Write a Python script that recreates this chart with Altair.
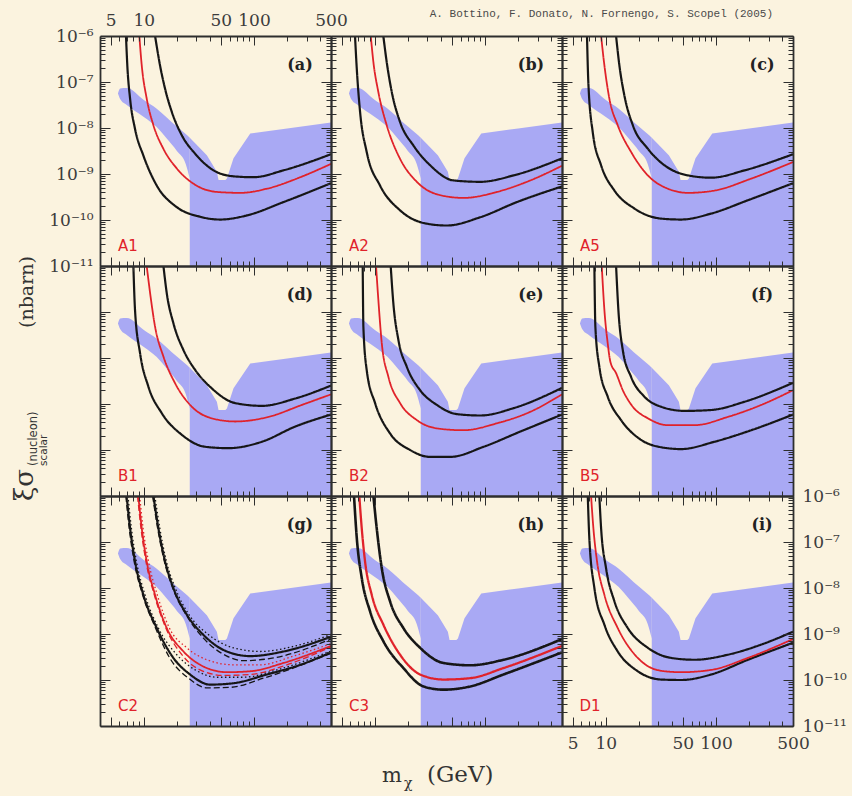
import altair as alt
import pandas as pd

# ---------------- style ----------------
BG = "#fbf3df"
BLUE = "#a9a9f4"
RED = "#e0222a"
BLACK = "#161616"
FRAME = "#2e2e2e"
SERIF = "DejaVu Serif"
W, H = 231, 230

# ---------------- axes ----------------
X_DOMAIN = [4, 500]
Y_DOMAIN = [1e-11, 1e-6]
X_MAJOR = [5, 10, 50, 100, 500]
X_MINOR = [6, 7, 8, 9, 20, 30, 40, 60, 70, 80, 90, 200, 300, 400]
Y_MAJOR = [1e-11, 1e-10, 1e-9, 1e-8, 1e-7, 1e-6]
Y_MINOR = [k * 10.0 ** e for e in range(-11, -6) for k in range(2, 10)]

# ---------------- allowed region (log10 m, log10 sigma) ----------------
BAND_LOGM = [0.765, 0.785, 0.845, 1.000, 1.117, 1.208, 1.300, 1.380, 1.417]
BAND_HI = [-7.25, -7.14, -7.13, -7.39, -7.58, -7.77, -7.97, -8.13, -8.21]
BAND_LO = [-7.25, -7.37, -7.50, -7.76, -7.98, -8.23, -8.50, -8.78, -9.10]
REGION_LOGM = [1.417, 1.477, 1.572, 1.663, 1.678, 1.740, 1.754, 1.814, 1.903, 1.966, 2.301, 2.699]
REGION_HI = [-8.21, -8.36, -8.59, -8.95, -9.13, -9.13, -9.10, -8.66, -8.34, -8.12, -8.01, -7.88]

# ---------------- curves (log10 m, log10 sigma) ----------------
A_UP = [(1.102, -6.0), (1.147, -6.64), (1.193, -7.15), (1.254, -7.65), (1.345, -8.16), (1.466, -8.56),
        (1.632, -8.92), (1.814, -9.05), (1.996, -9.07), (2.268, -8.92), (2.699, -8.57)]
A_MID = [(0.959, -6.0), (0.981, -6.64), (1.026, -7.36), (1.087, -7.94), (1.177, -8.45), (1.299, -8.88),
         (1.450, -9.21), (1.663, -9.39), (1.875, -9.41), (2.117, -9.32), (2.420, -9.07), (2.699, -8.78)]
A_LO = [(0.838, -6.0), (0.850, -6.64), (0.875, -7.36), (0.920, -8.02), (0.996, -8.60), (1.117, -9.25),
        (1.299, -9.72), (1.511, -9.93), (1.693, -9.99), (1.936, -9.90), (2.268, -9.61), (2.699, -9.20)]

B_UP = [(1.077, -6.0), (1.108, -6.57), (1.154, -7.22), (1.229, -7.87), (1.350, -8.38), (1.502, -8.81),
        (1.714, -9.14), (1.957, -9.17), (2.260, -9.03), (2.699, -8.66)]
B_MID = [(0.963, -6.0), (0.987, -6.57), (1.032, -7.22), (1.108, -7.94), (1.229, -8.67), (1.381, -9.17),
         (1.593, -9.46), (1.805, -9.52), (2.108, -9.39), (2.411, -9.14), (2.699, -8.82)]
B_LO = [(0.820, -6.0), (0.836, -6.71), (0.866, -7.65), (0.926, -8.52), (1.047, -9.25), (1.229, -9.79),
        (1.472, -10.08), (1.654, -10.12), (1.957, -9.94), (2.290, -9.61), (2.699, -9.27)]

C_UP = [(1.093, -6.0), (1.123, -6.64), (1.168, -7.29), (1.245, -7.94), (1.381, -8.45), (1.532, -8.81),
        (1.745, -9.03), (1.957, -9.08), (2.260, -8.92), (2.699, -8.57)]
C_MID = [(0.957, -6.0), (0.987, -6.64), (1.032, -7.36), (1.108, -7.94), (1.229, -8.52), (1.381, -9.03),
         (1.563, -9.32), (1.745, -9.41), (1.987, -9.36), (2.320, -9.10), (2.699, -8.74)]
C_LO = [(0.829, -6.0), (0.841, -7.0), (0.881, -8.09), (0.957, -8.81), (1.078, -9.36), (1.259, -9.75),
        (1.502, -9.97), (1.684, -9.99), (1.957, -9.86), (2.290, -9.57), (2.699, -9.20)]

D_UP = [(1.178, -6.0), (1.208, -6.59), (1.269, -7.25), (1.360, -7.83), (1.466, -8.26), (1.617, -8.66),
        (1.829, -8.98), (2.072, -9.04), (2.375, -8.88), (2.699, -8.60)]
D_MID = [(1.026, -6.0), (1.057, -6.59), (1.102, -7.32), (1.178, -7.97), (1.284, -8.55), (1.436, -9.06),
         (1.617, -9.31), (1.829, -9.38), (2.132, -9.28), (2.435, -9.02), (2.699, -8.79)]
D_LO = [(0.905, -6.0), (0.920, -6.96), (0.966, -7.90), (1.041, -8.62), (1.163, -9.20), (1.345, -9.67),
        (1.557, -9.93), (1.768, -9.96), (2.072, -9.82), (2.375, -9.49), (2.699, -9.23)]

E_UP = [(1.144, -6.0), (1.168, -6.81), (1.214, -7.61), (1.290, -8.19), (1.411, -8.70), (1.563, -9.02),
        (1.745, -9.22), (1.957, -9.25), (2.260, -9.09), (2.699, -8.65)]
E_MID = [(1.011, -6.0), (1.032, -6.74), (1.063, -7.68), (1.123, -8.41), (1.229, -8.98), (1.381, -9.35),
         (1.593, -9.54), (1.805, -9.57), (2.108, -9.42), (2.411, -9.17), (2.699, -8.79)]
E_LO = [(0.890, -6.0), (0.896, -7.32), (0.926, -8.26), (1.002, -8.98), (1.138, -9.64), (1.320, -10.0),
        (1.502, -10.15), (1.684, -10.15), (1.987, -9.93), (2.320, -9.60), (2.699, -9.23)]

F_UP = [(1.093, -6.0), (1.114, -6.96), (1.154, -7.83), (1.229, -8.41), (1.350, -8.84), (1.502, -9.06),
        (1.714, -9.15), (1.957, -9.13), (2.260, -8.95), (2.699, -8.54)]
F_MID = [(0.963, -6.0), (0.987, -6.96), (1.017, -7.68), (1.041, -8.08), (1.093, -8.33), (1.154, -8.70),
         (1.245, -9.06), (1.381, -9.31), (1.563, -9.46), (1.805, -9.46), (2.108, -9.28), (2.411, -9.02),
         (2.699, -8.70)]
F_LO = [(0.896, -6.0), (0.905, -7.32), (0.941, -8.19), (1.017, -8.84), (1.138, -9.35), (1.320, -9.78),
        (1.502, -9.94), (1.684, -9.98), (1.987, -9.82), (2.320, -9.57), (2.699, -9.23)]

G_UP = [(1.087, -6.0), (1.132, -6.70), (1.193, -7.42), (1.268, -8.0), (1.390, -8.58), (1.541, -9.02),
        (1.754, -9.38), (1.966, -9.48), (2.268, -9.38), (2.699, -9.06)]
G_MID = [(0.950, -6.0), (0.981, -6.70), (1.026, -7.42), (1.102, -8.15), (1.208, -8.87), (1.360, -9.38),
         (1.511, -9.67), (1.754, -9.83), (1.966, -9.81), (2.268, -9.63), (2.699, -9.26)]
G_LO = [(0.844, -6.0), (0.875, -6.70), (0.920, -7.42), (0.996, -8.15), (1.117, -8.87), (1.268, -9.52),
        (1.420, -9.88), (1.602, -10.10), (1.814, -10.07), (2.117, -9.88), (2.420, -9.67), (2.699, -9.40)]
G_UP_DOT = [(1.100, -6.0), (1.145, -6.70), (1.205, -7.42), (1.285, -8.0), (1.410, -8.58), (1.590, -9.02),
            (1.814, -9.30), (2.056, -9.38), (2.359, -9.27), (2.699, -9.01)]
G_UP_DASH = [(1.080, -6.0), (1.125, -6.70), (1.186, -7.42), (1.262, -8.0), (1.383, -8.58), (1.541, -9.09),
             (1.754, -9.48), (1.905, -9.58), (2.178, -9.52), (2.699, -9.11)]
G_MID_DOT = [(0.962, -6.0), (0.993, -6.70), (1.042, -7.42), (1.122, -8.15), (1.232, -8.87), (1.390, -9.30),
             (1.572, -9.56), (1.814, -9.67), (2.056, -9.67), (2.359, -9.48), (2.699, -9.21)]
G_MID_DASH = [(0.943, -6.0), (0.974, -6.70), (1.019, -7.42), (1.095, -8.15), (1.200, -8.87), (1.345, -9.45),
              (1.511, -9.78), (1.723, -9.90), (1.966, -9.88), (2.299, -9.67), (2.699, -9.28)]
G_LO_DOT = [(0.856, -6.0), (0.887, -6.70), (0.933, -7.42), (1.011, -8.15), (1.132, -8.87), (1.299, -9.45),
            (1.466, -9.78), (1.663, -9.94), (1.905, -9.94), (2.208, -9.78), (2.699, -9.37)]
G_LO_DASH = [(0.837, -6.0), (0.867, -6.70), (0.912, -7.42), (0.989, -8.15), (1.106, -8.87), (1.245, -9.56),
             (1.405, -9.96), (1.572, -10.17), (1.784, -10.16), (2.087, -9.96), (2.699, -9.42)]

H_UP = [(0.987, -6.0), (1.017, -6.70), (1.063, -7.57), (1.138, -8.29), (1.259, -8.87), (1.411, -9.30),
        (1.623, -9.63), (1.866, -9.68), (2.168, -9.56), (2.699, -9.11)]
H_MID = [(0.859, -6.0), (0.881, -6.70), (0.911, -7.42), (0.972, -8.15), (1.078, -8.80), (1.229, -9.45),
         (1.411, -9.88), (1.623, -9.99), (1.866, -9.96), (2.168, -9.74), (2.699, -9.26)]
H_LO = [(0.811, -6.0), (0.836, -6.91), (0.881, -7.78), (0.957, -8.51), (1.078, -9.16), (1.259, -9.74),
        (1.441, -10.14), (1.623, -10.21), (1.866, -10.14), (2.168, -9.88), (2.699, -9.40)]

I_UP = [(0.941, -6.0), (0.957, -6.70), (1.002, -7.57), (1.078, -8.29), (1.199, -8.87), (1.381, -9.30),
        (1.593, -9.52), (1.805, -9.56), (2.108, -9.45), (2.411, -9.23), (2.699, -8.95)]
I_MID = [(0.866, -6.0), (0.887, -6.70), (0.920, -7.42), (0.987, -8.15), (1.108, -8.87), (1.290, -9.52),
         (1.502, -9.80), (1.684, -9.83), (1.957, -9.78), (2.290, -9.52), (2.699, -9.11)]
I_LO = [(0.836, -6.0), (0.850, -6.91), (0.896, -8.0), (0.987, -8.80), (1.108, -9.38), (1.290, -9.81),
        (1.502, -9.99), (1.684, -10.0), (1.957, -9.88), (2.290, -9.56), (2.699, -9.19)]

PANEL_TAGS = ["(a)", "(b)", "(c)", "(d)", "(e)", "(f)", "(g)", "(h)", "(i)"]
MODELS = ["A1", "A2", "A5", "B1", "B2", "B5", "C2", "C3", "D1"]
SOLID = [(A_UP, A_MID, A_LO), (B_UP, B_MID, B_LO), (C_UP, C_MID, C_LO),
         (D_UP, D_MID, D_LO), (E_UP, E_MID, E_LO), (F_UP, F_MID, F_LO),
         (G_UP, G_MID, G_LO), (H_UP, H_MID, H_LO), (I_UP, I_MID, I_LO)]
G_VARIANTS = [(G_UP_DOT, "k", "dot"), (G_UP_DASH, "k", "dash"), (G_MID_DOT, "r", "dot"),
              (G_MID_DASH, "r", "dash"), (G_LO_DOT, "k", "dot"), (G_LO_DASH, "k", "dash")]

HEADER = "A. Bottino, F. Donato, N. Fornengo, S. Scopel (2005)"

Y_EXPR = ("datum.value < 3e-11 ? '10\u207b\u00b9\u00b9' : datum.value < 3e-10 ? '10\u207b\u00b9\u2070' : "
          "datum.value < 3e-9 ? '10\u207b\u2079' : datum.value < 3e-8 ? '10\u207b\u2078' : "
          "datum.value < 3e-7 ? '10\u207b\u2077' : '10\u207b\u2076'")

xs = alt.Scale(type="log", domain=X_DOMAIN, nice=False)
ys = alt.Scale(type="log", domain=Y_DOMAIN, nice=False)

band_df = pd.DataFrame({"m": [10 ** v for v in BAND_LOGM],
                        "hi": [10 ** v for v in BAND_HI],
                        "lo": [10 ** v for v in BAND_LO]})
region_df = pd.DataFrame({"m": [10 ** v for v in REGION_LOGM],
                          "hi": [10 ** v for v in REGION_HI],
                          "lo": [Y_DOMAIN[0]] * len(REGION_LOGM)})
DUMMY = pd.DataFrame({"m": [10.0], "s": [1e-8]})
ONE = pd.DataFrame({"t": [0]})


def curve_rows(points, cid, col, sty, sw):
    return [{"m": 10 ** p[0], "s": 10 ** p[1], "cid": cid, "col": col, "sty": sty, "sw": sw}
            for p in points]


def tick_layer(xo, yo, xv, yv, xsize, ysize):
    return alt.Chart(DUMMY).mark_point(opacity=0).encode(
        x=alt.X("m:Q", scale=xs, axis=alt.Axis(
            orient=xo, values=xv, ticks=True, tickSize=xsize, offset=-xsize, labels=False,
            domain=False, grid=False, title=None, tickColor=FRAME, tickWidth=1, zindex=1)),
        y=alt.Y("s:Q", scale=ys, axis=alt.Axis(
            orient=yo, values=yv, ticks=True, tickSize=ysize, offset=-ysize, labels=False,
            domain=False, grid=False, title=None, tickColor=FRAME, tickWidth=1, zindex=1)),
    )


def frame_layer(xo, yo, xlab, ylab, xpad, ypad):
    return alt.Chart(DUMMY).mark_point(opacity=0).encode(
        x=alt.X("m:Q", scale=xs, axis=alt.Axis(
            orient=xo, values=X_MAJOR, ticks=False, domain=True, domainColor=FRAME, domainWidth=1.8,
            labels=xlab, labelPadding=xpad, format="d", labelFont=SERIF, labelFontSize=17,
            labelColor="#3c3c3c", labelFlush=False, labelOverlap=False, grid=False, title=None, zindex=1)),
        y=alt.Y("s:Q", scale=ys, axis=alt.Axis(
            orient=yo, values=Y_MAJOR, ticks=False, domain=True, domainColor=FRAME, domainWidth=1.8,
            labels=ylab, labelPadding=ypad, labelExpr=Y_EXPR, labelFont=SERIF, labelFontSize=17,
            labelColor="#3c3c3c", labelFlush=False, labelOverlap=False, grid=False, title=None, zindex=1)),
    )


def text_at(txt, x, y, size, color="#333333", font=SERIF, weight="normal", align="left",
            baseline="alphabetic", angle=0):
    kw = dict(text=txt, font=font, fontSize=size, color=color, fontWeight=weight,
              align=align, baseline=baseline)
    if angle:
        kw["angle"] = angle
    return alt.Chart(ONE).mark_text(**kw).encode(x=alt.value(x), y=alt.value(y))


def panel(idx):
    up, mid, lo = SOLID[idx]
    sw_k = 2.6 if idx == 7 else 2.2
    sw_r = 2.3 if idx == 7 else 1.8
    rows = (curve_rows(up, "up", "k", "solid", sw_k) + curve_rows(lo, "lo", "k", "solid", sw_k)
            + curve_rows(mid, "mid", "r", "solid", sw_r))
    if idx == 6:
        for n, (pts, col, sty) in enumerate(G_VARIANTS):
            rows += curve_rows(pts, "v%d" % n, col, sty, 1.3)
    lines_df = pd.DataFrame(rows)

    region = alt.Chart(region_df).mark_area(color=BLUE, opacity=1, interpolate="linear").encode(
        x=alt.X("m:Q", scale=xs, axis=None), y=alt.Y("hi:Q", scale=ys, axis=None), y2="lo:Q")
    band = alt.Chart(band_df).mark_area(color=BLUE, opacity=1, interpolate="monotone").encode(
        x=alt.X("m:Q", scale=xs, axis=None), y=alt.Y("hi:Q", scale=ys, axis=None), y2="lo:Q")
    lines = alt.Chart(lines_df).mark_line(clip=True, interpolate="monotone").encode(
        x=alt.X("m:Q", scale=xs, axis=None),
        y=alt.Y("s:Q", scale=ys, axis=None),
        color=alt.Color("col:N", scale=alt.Scale(domain=["k", "r"], range=[BLACK, RED]), legend=None),
        strokeDash=alt.StrokeDash("sty:N", scale=alt.Scale(domain=["solid", "dot", "dash"],
                                                           range=[[1, 0], [1.5, 2.5], [6, 3]]), legend=None),
        strokeWidth=alt.StrokeWidth("sw:Q", scale=None),
        detail="cid:N",
    )
    tag = text_at(PANEL_TAGS[idx], 200, 29, 16, color="#222222", weight="bold", align="center",
                  baseline="middle")
    model = text_at(MODELS[idx], 28, 210, 15, color=RED, font="DejaVu Sans", align="center",
                    baseline="middle")

    layers = [region, band, lines, tag, model]
    if idx == 2:
        layers.append(text_at(HEADER, 211, -22, 11, color="#4a4a4a", font="Liberation Mono",
                              align="right", baseline="middle"))
    if idx == 3:
        layers += [
            text_at("(nbarn)", -67, 62, 19, angle=270),
            text_at("\u03be\u03c3", -67, 235, 26, angle=270),
            text_at("(nucleon)", -63, 200, 11.5, font="DejaVu Sans", angle=270),
            text_at("scalar", -53, 200, 10.5, font="DejaVu Sans", angle=270),
        ]
    if idx == 7:
        layers += [
            text_at("m", 51, 286, 21),
            text_at("\u03c7", 73, 292, 14),
            text_at("(GeV)", 96, 286, 23),
        ]

    layers += [
        tick_layer("bottom", "left", X_MAJOR, Y_MAJOR, 9, 10),
        tick_layer("bottom", "left", X_MINOR, Y_MINOR, 5, 5),
        tick_layer("top", "right", X_MAJOR, Y_MAJOR, 9, 10),
        tick_layer("top", "right", X_MINOR, Y_MINOR, 5, 5),
        frame_layer("bottom", "left", idx == 8, idx == 0, 9, 7),
        frame_layer("top", "right", idx == 0, idx == 8, 7, 9),
    ]
    return alt.layer(*layers).resolve_axis(x="independent", y="independent").properties(width=W, height=H)


chart = alt.concat(*[panel(i) for i in range(9)], columns=3, spacing=0, bounds="flush").configure(
    background=BG, padding={"left": 12, "top": 8, "right": 5, "bottom": 5}
).configure_view(stroke=None)

chart.save("out.html", embed_options={"renderer": "svg", "actions": False})
